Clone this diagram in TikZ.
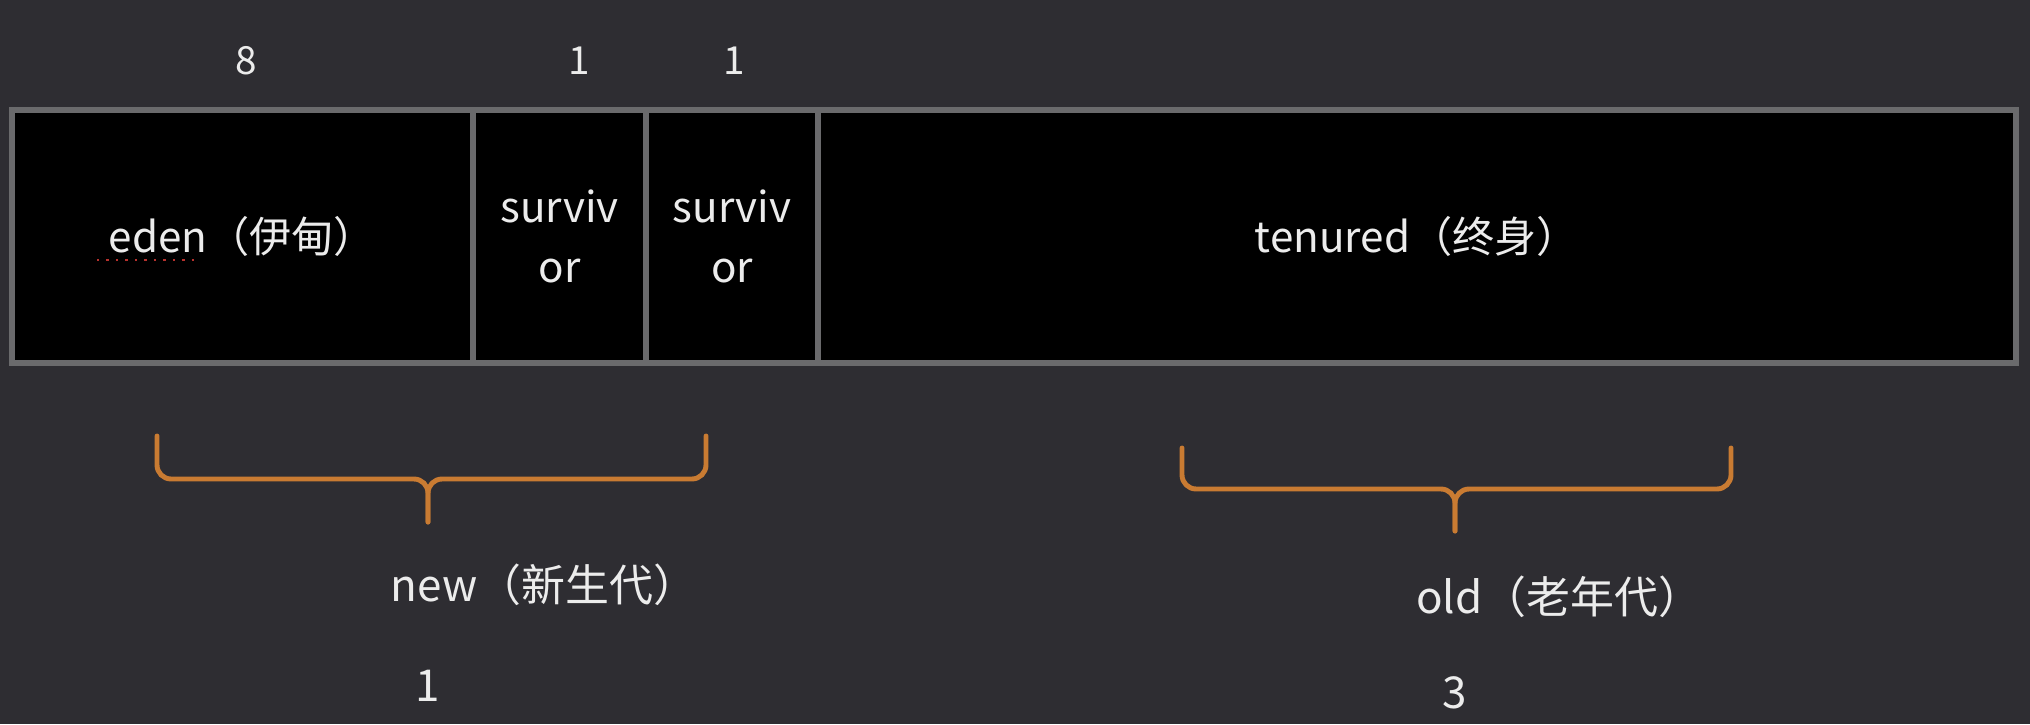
\documentclass[tikz,border=0pt]{standalone}
\usepackage{fontspec}
\setmainfont{Noto Sans CJK SC}
\usetikzlibrary{positioning}
\definecolor{Slate}{HTML}{2E2D32}
\definecolor{Frame}{HTML}{6A6A6C}
\definecolor{Ink}{HTML}{ECECEC}
\definecolor{Amber}{HTML}{C97B32}
\definecolor{Squiggle}{HTML}{B8322E}

\tikzset{
  cell/.style={draw=Frame,fill=black,line width=1.7pt,minimum height=2.53cm,inner sep=0pt,outer sep=0pt,text=Ink,font=\fontsize{12}{17}\selectfont,align=center},
  ratio/.style={text=Ink,font=\fontsize{11}{13}\selectfont},
  gen/.style={text=Ink,font=\fontsize{12.5}{15}\selectfont},
  brace/.style={draw=Amber,line width=1.4pt,rounded corners=4pt,line cap=round}
}

\begin{document}
\begin{tikzpicture}[x=1cm,y=1cm]
\path[use as bounding box] (0,0) rectangle (20.3,7.24);
\fill[Slate] (0,0) rectangle (20.3,7.24);

% heap cells
\node[cell,minimum width=4.61cm] (eden) at (2.425,4.875) {eden（伊甸）};
\node[cell,minimum width=1.73cm,right=0pt of eden] (s0) {surviv\\or};
\node[cell,minimum width=1.72cm,right=0pt of s0] (s1) {surviv\\or};
\node[cell,minimum width=11.98cm,right=0pt of s1] (tenured) {tenured（终身）};
\draw[Squiggle,dotted,line width=0.7pt] (0.97,4.64) -- (1.94,4.64);

% size ratios
\node[ratio] (r8) at (2.46,6.63) {8};
\node[ratio] (r1a) at (5.79,6.63) {1};
\node[ratio] (r1b) at (7.34,6.63) {1};

% generation braces
\foreach \l/\r/\t/\h/\m/\b in {1.57/7.06/2.88/2.45/4.28/2.02,11.82/17.31/2.76/2.35/14.55/1.93}{
  \draw[brace] (\l,\t) -- (\l,\h) -- (\m,\h) -- (\m,\b);
  \draw[brace] (\r,\t) -- (\r,\h) -- (\m,\h) -- (\m,\b);
}
\node[gen] (newgen) at (5.44,1.39) {new（新生代）};
\node[gen] (oldgen) at (15.59,1.27) {old（老年代）};
\node[gen] (nratio) at (4.28,0.38) {1};
\node[gen] (oratio) at (14.55,0.31) {3};
\end{tikzpicture}
\end{document}
